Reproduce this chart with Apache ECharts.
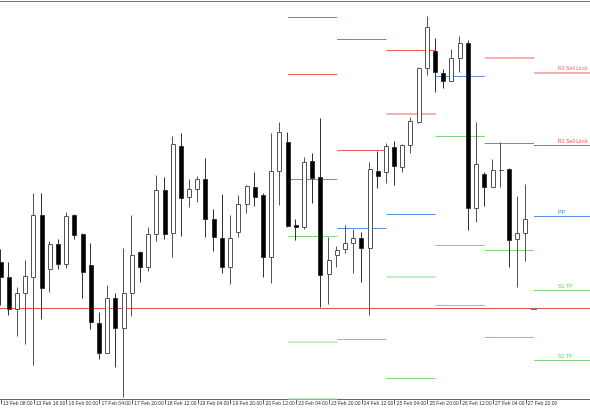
<!DOCTYPE html>
<html>
<head>
<meta charset="utf-8">
<title>H4 candles with daily pivots</title>
<script src="https://cdn.jsdelivr.net/npm/echarts@6/dist/echarts.min.js"></script>
<style>
  html, body { margin: 0; padding: 0; background: #fff; }
  #chart { width: 590px; height: 410px; }
</style>
</head>
<body>
<div id="chart"></div>
<script>
// time labels, one every 4 bars
const tickLabels = [
  '13 Feb 08:00', '13 Feb 16:00', '16 Feb 00:00', '17 Feb 04:00', '17 Feb 20:00',
  '18 Feb 12:00', '19 Feb 04:00', '19 Feb 20:00', '20 Feb 12:00', '23 Feb 04:00',
  '23 Feb 20:00', '24 Feb 12:00', '25 Feb 04:00', '25 Feb 20:00', '26 Feb 12:00',
  '27 Feb 04:00', '27 Feb 20:00'
]

// H4 bars
const openP = [
  1.1188, 1.1173, 1.1141, 1.1157, 1.1173, 1.1235, 1.1181, 1.1206, 1.1186, 1.1235,
  1.1216, 1.1185, 1.1127, 1.1097, 1.1152, 1.1122, 1.1157, 1.1198, 1.1183, 1.1216,
  1.1260, 1.1217, 1.1304, 1.1253, 1.1261, 1.1271, 1.1231, 1.1212, 1.1183, 1.1218,
  1.1246, 1.1263, 1.1255, 1.1193, 1.1279, 1.1308, 1.1225, 1.1223, 1.1289, 1.1273,
  1.1176, 1.1195, 1.1201, 1.1207, 1.1212, 1.1202, 1.1279, 1.1278, 1.1303, 1.1283,
  1.1305, 1.1328, 1.1382, 1.1399, 1.1377, 1.1369, 1.1392, 1.1407, 1.1242, 1.1276,
  1.1263, 1.1280, 1.1281, 1.1211, 1.1217
]
const closeP = [
  1.1173, 1.1141, 1.1157, 1.1174, 1.1235, 1.1162, 1.1206, 1.1186, 1.1234, 1.1215,
  1.1178, 1.1128, 1.1097, 1.1152, 1.1122, 1.1157, 1.1195, 1.1183, 1.1216, 1.1260,
  1.1216, 1.1306, 1.1252, 1.1261, 1.1271, 1.1231, 1.1213, 1.1183, 1.1212, 1.1246,
  1.1264, 1.1253, 1.1193, 1.1279, 1.1318, 1.1224, 1.1223, 1.1288, 1.1272, 1.1175,
  1.1190, 1.1200, 1.1207, 1.1212, 1.1202, 1.1281, 1.1274, 1.1304, 1.1284, 1.1305,
  1.1329, 1.1382, 1.1423, 1.1378, 1.1369, 1.1392, 1.1407, 1.1242, 1.1286, 1.1263,
  1.1280, 1.1280, 1.1210, 1.1217, 1.1231
]
const lowP = [
  1.1145, 1.1135, 1.1114, 1.1106, 1.1085, 1.1131, 1.1158, 1.1181, 1.1182, 1.1211,
  1.1152, 1.1121, 1.1091, 1.1097, 1.1083, 1.1053, 1.1134, 1.1168, 1.1179, 1.1209,
  1.1211, 1.1193, 1.1214, 1.1243, 1.1248, 1.1213, 1.1199, 1.1177, 1.1166, 1.1213,
  1.1237, 1.1244, 1.1173, 1.1167, 1.1245, 1.1223, 1.1210, 1.1221, 1.1247, 1.1143,
  1.1146, 1.1183, 1.1197, 1.1177, 1.1168, 1.1135, 1.1262, 1.1267, 1.1265, 1.1278,
  1.1297, 1.1327, 1.1375, 1.1358, 1.1362, 1.1369, 1.1378, 1.1220, 1.1228, 1.1244,
  1.1263, 1.1263, 1.1183, 1.1163, 1.1189
]
const highP = [
  1.1201, 1.1188, 1.1163, 1.1190, 1.1257, 1.1257, 1.1209, 1.1211, 1.1238, 1.1236,
  1.1217, 1.1207, 1.1138, 1.1165, 1.1157, 1.1202, 1.1235, 1.1199, 1.1223, 1.1275,
  1.1273, 1.1314, 1.1317, 1.1271, 1.1274, 1.1292, 1.1241, 1.1256, 1.1235, 1.1255,
  1.1265, 1.1278, 1.1257, 1.1317, 1.1328, 1.1318, 1.1231, 1.1293, 1.1297, 1.1332,
  1.1213, 1.1204, 1.1225, 1.1221, 1.1218, 1.1288, 1.1299, 1.1307, 1.1309, 1.1306,
  1.1333, 1.1383, 1.1434, 1.1412, 1.1381, 1.1401, 1.1414, 1.1410, 1.1328, 1.1278,
  1.1291, 1.1308, 1.1282, 1.1254, 1.1266
]

// daily pivot segments: bar index where each day starts / ends
const dayFrom = [35, 41, 47, 53, 59, 65]
const dayTo = [41, 47, 53, 59, 65, 71.83]

// [day, price, name]
const resistLevels = [[0, 1.1433], [0, 1.1376], [1, 1.1411], [1, 1.1300], [2, 1.1400], [5, 1.1305, 'R1 Sell Limit']]
const resistLevelsSoft = [[2, 1.1337], [4, 1.1393], [5, 1.1378, 'R2 Sell Limit']]
const pivotLevels = [[0, 1.1271], [1, 1.1222], [2, 1.1236], [3, 1.1374], [4, 1.1307], [5, 1.1234, 'PP']]
const supportLevels = [
  [0, 1.1214], [1, 1.1111], [2, 1.1072], [3, 1.1314], [3, 1.1205], [3, 1.1145],
  [4, 1.1200], [4, 1.1113], [5, 1.1160, 'S1 TP'], [5, 1.1090, 'S2 TP']
]
const supportLevelsSoft = [[0, 1.1109], [0, 1.1052], [2, 1.1174]]

// price line across the chart + order marker
const priceLine = 1.1142
const markerFrom = 64.6
const markerTo = 65.35

const barCount = 73
const categories = Array.from({ length: barCount }, (_, i) => String(i))
const candles = openP.map((o, i) => [o, closeP[i], lowP[i], highP[i]])

const labelFont = 'Liberation Sans'

function segments(list, color, width, textColor) {
  return list.map(([d, p, name]) => ({
    coords: [[dayFrom[d], p], [dayTo[d], p]],
    lineStyle: { color, width, opacity: 1, type: 'solid' },
    label: name ? {
      show: true,
      formatter: name,
      position: 'insideStartTop',
      distance: [24, 1.5],
      color: textColor,
      fontSize: 5.2,
      fontFamily: labelFont
    } : { show: false }
  }))
}

const levelLines = [].concat(
  segments(resistLevels, '#f05a5a', 1, '#f05050'),
  segments(resistLevelsSoft, '#f7b0b0', 2, '#f06a6a'),
  segments(pivotLevels, '#5b8ee6', 1, '#4a7fe0'),
  segments(supportLevels, '#7ed67e', 1, '#6ccf6c'),
  segments(supportLevelsSoft, '#c6eec6', 2, '#6ccf6c'),
  [{ coords: [[-0.5, priceLine], [72.5, priceLine]], lineStyle: { color: '#e65050', width: 1, opacity: 1 } }],
  [{ coords: [[markerFrom, priceLine], [markerTo, priceLine]], lineStyle: { color: '#777', width: 2, opacity: 1 } }]
)

const myChart = echarts.init(document.getElementById('chart'))
const option = {
  animation: false,
  backgroundColor: '#fff',
  // thin frame line along the top edge
  graphic: [{
    type: 'line',
    silent: true,
    shape: { x1: 0, y1: 1.5, x2: 590, y2: 1.5 },
    style: { stroke: '#777', lineWidth: 1 }
  }],
  grid: {
    left: -3.1,
    top: 1.5,
    width: 598.6,
    height: 398,
    outerBoundsMode: 'none'
  },
  xAxis: [
    {
      type: 'category',
      data: categories,
      boundaryGap: true,
      axisLine: { onZero: false, lineStyle: { color: '#666', width: 1 } },
      axisTick: {
        show: true,
        alignWithLabel: true,
        length: 5,
        interval: (idx) => idx % 4 === 0 && idx <= 64,
        lineStyle: { color: '#666' }
      },
      axisLabel: {
        show: true,
        interval: (idx) => idx % 4 === 0 && idx <= 64,
        formatter: (v, idx) => tickLabels[idx / 4] || '',
        align: 'left',
        padding: [0, 0, 0, 2],
        margin: 2,
        color: '#333',
        fontSize: 5,
        fontFamily: labelFont
      },
      splitLine: { show: false }
    },
    {
      // value axis in bar units, used only to place the level segments
      type: 'value',
      position: 'top',
      min: -0.5,
      max: 72.5,
      axisLine: { show: false },
      axisTick: { show: false },
      axisLabel: { show: false },
      splitLine: { show: false }
    }
  ],
  yAxis: {
    type: 'value',
    min: 1.1051,
    max: 1.1449,
    show: false,
    splitLine: { show: false }
  },
  series: [
    {
      type: 'lines',
      coordinateSystem: 'cartesian2d',
      xAxisIndex: 1,
      yAxisIndex: 0,
      silent: true,
      z: 1,
      lineStyle: { opacity: 1 },
      data: levelLines
    },
    {
      type: 'candlestick',
      xAxisIndex: 0,
      yAxisIndex: 0,
      barWidth: 4.5,
      z: 3,
      itemStyle: {
        color: '#fff',
        color0: '#000',
        borderColor: '#555',
        borderColor0: '#333',
        borderWidth: 1
      },
      data: candles
    }
  ]
}
myChart.setOption(option)
</script>
</body>
</html>
